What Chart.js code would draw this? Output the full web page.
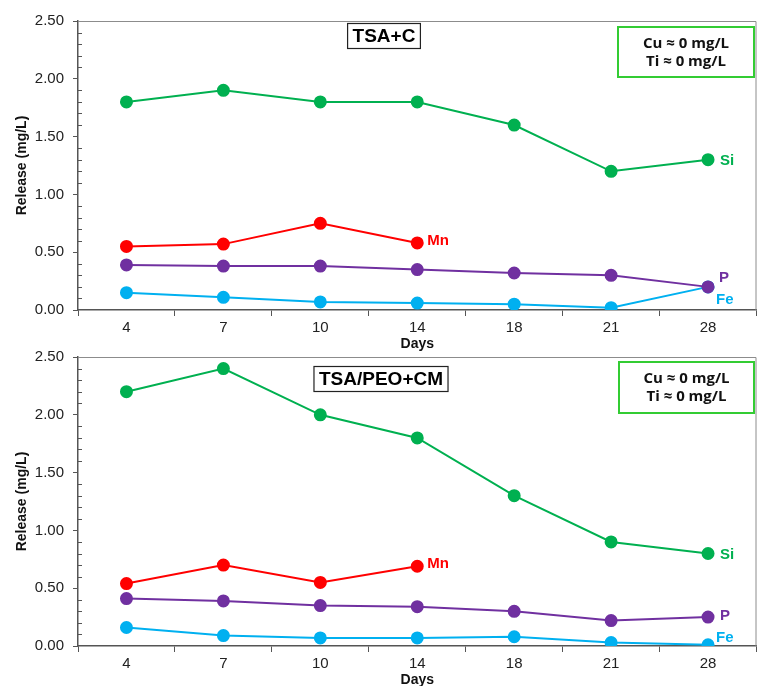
<!DOCTYPE html>
<html>
<head>
<meta charset="utf-8">
<script src="https://cdn.jsdelivr.net/npm/chart.js@4.4.1/dist/chart.umd.min.js"></script>
<style>
  html, body { margin: 0; padding: 0; background: #fff; }
  #wrap { position: relative; width: 760px; height: 686px; overflow: hidden; }
  .panel { position: absolute; left: 0; width: 764px; height: 353px; }
</style>
</head>
<body>
<div id="wrap">
  <div class="panel" style="top:0"><canvas id="c1" width="764" height="353"></canvas></div>
  <div class="panel" style="top:336px"><canvas id="c2" width="764" height="353"></canvas></div>
</div>
<script>
// Sampling days (category axis)
const days = ['4', '7', '10', '14', '18', '21', '28'];
const yTicks = [0, 0.5, 1.0, 1.5, 2.0, 2.5];

// TSA+C release, mg/L
const tsaC_Si = [1.80, 1.90, 1.80, 1.80, 1.60, 1.20, 1.30];
const tsaC_Mn = [0.55, 0.57, 0.75, 0.58];
const tsaC_P  = [0.39, 0.38, 0.38, 0.35, 0.32, 0.30, 0.20];
const tsaC_Fe = [0.15, 0.11, 0.07, 0.06, 0.05, 0.02, 0.20];

// TSA/PEO+CM release, mg/L
const peo_Si = [2.20, 2.40, 2.00, 1.80, 1.30, 0.90, 0.80];
const peo_Mn = [0.54, 0.70, 0.55, 0.69];
const peo_P  = [0.41, 0.39, 0.35, 0.34, 0.30, 0.22, 0.25];
const peo_Fe = [0.16, 0.09, 0.07, 0.07, 0.08, 0.03, 0.01];

const COLORS = { Si: '#00B050', Mn: '#FF0000', P: '#7030A0', Fe: '#00B0F0' };
const AXIS = '#555555';
const FONT = "'Liberation Sans', Arial, sans-serif";

function ds(name, data) {
  return {
    label: name, data,
    borderColor: COLORS[name], backgroundColor: COLORS[name],
    pointBackgroundColor: COLORS[name], pointBorderColor: COLORS[name],
    borderWidth: 2, pointRadius: 5.5, pointHoverRadius: 5.5, tension: 0
  };
}

// Minor ticks, top/right frame, series labels and boxed captions
const decor = {
  id: 'decor',
  afterDraw(chart, args, opts) {
    const { ctx, chartArea: a, scales: { y } } = chart;
    ctx.save();
    // minor ticks on the value axis, drawn inward
    ctx.strokeStyle = AXIS; ctx.lineWidth = 1;
    for (let i = 1; i < 25; i++) {
      if (i % 5 === 0) continue;
      const py = Math.round(y.getPixelForValue(i / 10)) + 0.5;
      ctx.beginPath(); ctx.moveTo(a.left, py); ctx.lineTo(a.left + 4, py); ctx.stroke();
    }
    // frame on top and right
    ctx.strokeStyle = '#8c8c8c'; ctx.lineWidth = 1;
    ctx.beginPath();
    ctx.moveTo(a.left, a.top + 0.5); ctx.lineTo(a.right - 0.5, a.top + 0.5); ctx.lineTo(a.right - 0.5, a.bottom);
    ctx.stroke();

    // series name labels next to their last point
    ctx.font = 'bold 15px ' + FONT;
    ctx.textAlign = 'left'; ctx.textBaseline = 'middle';
    chart.data.datasets.forEach((d, i) => {
      const meta = chart.getDatasetMeta(i);
      const pt = meta.data[meta.data.length - 1];
      const off = opts.labelOffsets[d.label];
      ctx.fillStyle = COLORS[d.label];
      ctx.fillText(d.label, pt.x + off[0], pt.y + off[1]);
    });

    // panel title box
    const t = opts.title;
    ctx.font = 'bold 19px ' + FONT;
    const tw = ctx.measureText(t.text).width;
    const bw = tw + 10, bh = 25;
    ctx.fillStyle = '#fff';
    ctx.fillRect(t.cx - bw / 2, t.cy - bh / 2, bw, bh);
    ctx.strokeStyle = '#222'; ctx.lineWidth = 1.2;
    ctx.strokeRect(t.cx - bw / 2, t.cy - bh / 2, bw, bh);
    ctx.fillStyle = '#000'; ctx.textAlign = 'center'; ctx.textBaseline = 'middle';
    ctx.fillText(t.text, t.cx, t.cy + 1);

    // note box
    const n = opts.note;
    ctx.fillStyle = '#fff';
    ctx.fillRect(n.x, n.y, n.w, n.h);
    ctx.strokeStyle = '#33CC33'; ctx.lineWidth = 2;
    ctx.strokeRect(n.x, n.y, n.w, n.h);
    ctx.fillStyle = '#111';
    ctx.font = "bold 15px 'Open Sans', " + FONT;
    ctx.fillText(n.lines[0], n.x + n.w / 2, n.y + 17);
    ctx.fillText(n.lines[1], n.x + n.w / 2, n.y + 35);
    ctx.restore();
  }
};

function makeChart(id, series, title, note, labelOffsets) {
  return new Chart(document.getElementById(id), {
    type: 'line',
    data: {
      labels: days,
      datasets: [ds('Si', series.Si), ds('Mn', series.Mn), ds('P', series.P), ds('Fe', series.Fe)]
    },
    options: {
      responsive: false,
      animation: false,
      layout: { padding: { left: 0, right: 3, top: 21, bottom: 0 } },
      plugins: {
        legend: { display: false },
        tooltip: { enabled: false },
        decor: { title, note, labelOffsets }
      },
      scales: {
        x: {
          type: 'category',
          offset: true,
          grid: { display: true, drawOnChartArea: false, drawTicks: true, tickLength: 6, offset: true, color: AXIS, lineWidth: 1 },
          border: { display: true, color: AXIS, width: 1.5 },
          ticks: { color: '#222', font: { family: FONT, size: 15 }, padding: 3, maxRotation: 0, autoSkip: false },
          title: { display: true, text: 'Days', color: '#111', font: { family: FONT, size: 14, weight: 'bold' }, padding: { top: 0, bottom: 0 } },
          afterFit(s) { s.height = 43; }
        },
        y: {
          min: 0, max: 2.5,
          afterBuildTicks(s) { s.ticks = yTicks.map(v => ({ value: v })); },
          grid: { display: true, drawOnChartArea: false, drawTicks: true, tickLength: 5, color: AXIS, lineWidth: 1 },
          border: { display: true, color: AXIS, width: 1.5 },
          ticks: { color: '#222', font: { family: FONT, size: 15 }, padding: 9, callback: v => Number(v).toFixed(2) },
          title: { display: true, text: 'Release (mg/L)', color: '#111', font: { family: FONT, size: 14, weight: 'bold' }, padding: { top: 14, bottom: 0 } },
          afterFit(s) { s.width = 78; }
        }
      }
    },
    plugins: [decor]
  });
}

makeChart('c1',
  { Si: tsaC_Si, Mn: tsaC_Mn, P: tsaC_P, Fe: tsaC_Fe },
  { text: 'TSA+C', cx: 384, cy: 36 },
  { x: 618, y: 27, w: 136, h: 50, lines: ['Cu ≈ 0 mg/L', 'Ti ≈ 0 mg/L'] },
  { Si: [12, 1], Mn: [10, -2], P: [11, -9], Fe: [8, 13] });

makeChart('c2',
  { Si: peo_Si, Mn: peo_Mn, P: peo_P, Fe: peo_Fe },
  { text: 'TSA/PEO+CM', cx: 381, cy: 43 },
  { x: 619, y: 26, w: 135, h: 51, lines: ['Cu ≈ 0 mg/L', 'Ti ≈ 0 mg/L'] },
  { Si: [12, 1], Mn: [10, -2], P: [12, -1], Fe: [8, -7] });
</script>
</body>
</html>
